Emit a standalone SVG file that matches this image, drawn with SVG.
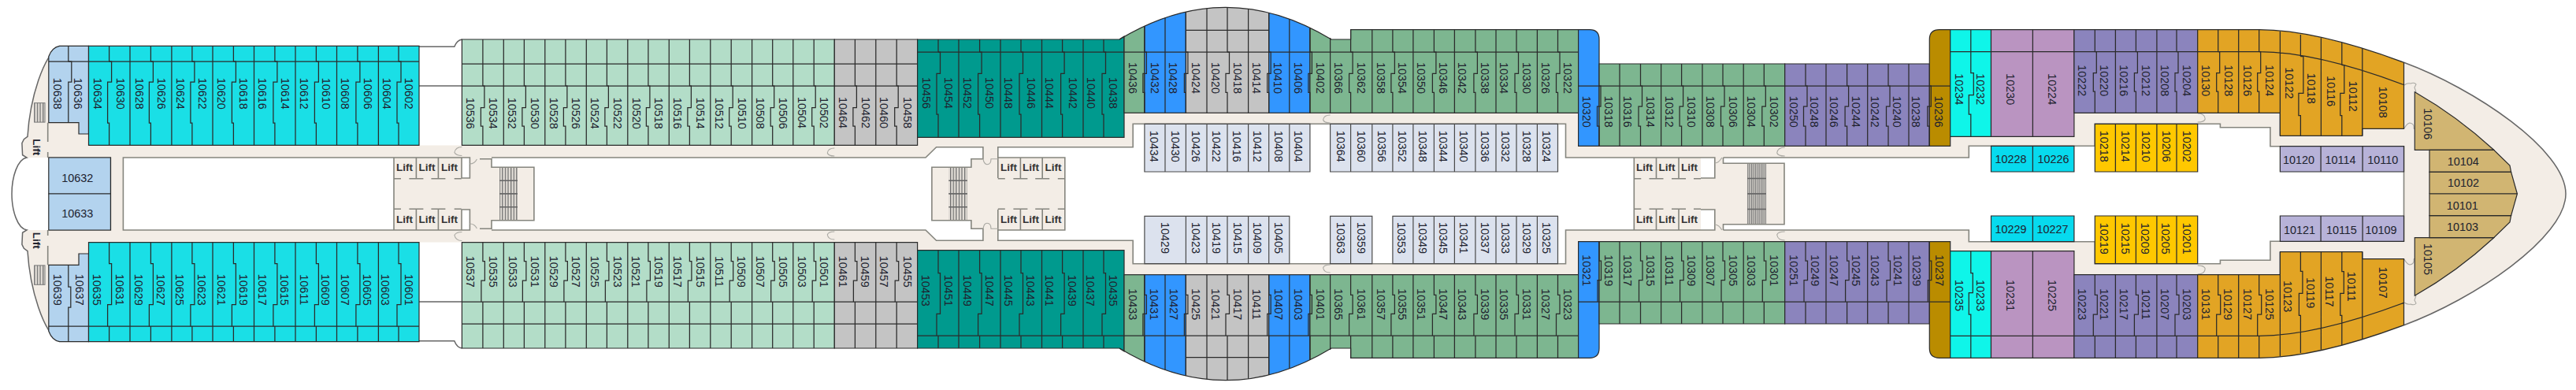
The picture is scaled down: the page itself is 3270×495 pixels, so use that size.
<svg xmlns="http://www.w3.org/2000/svg" width="3270" height="495" viewBox="0 0 3270 495">
<style>
text{font-family:"Liberation Sans",Arial,sans-serif;font-size:14.4px;fill:#20222e}
.v{writing-mode:vertical-rl;text-anchor:middle}
.h{text-anchor:middle;dominant-baseline:central}
.lift{font-size:13.5px;font-weight:bold;fill:#333}
.c{stroke:#2b2b2b;stroke-width:1.2}
.l{fill:none;stroke:#2b2b2b;stroke-width:1.25}
.w{fill:none;stroke:#85857e;stroke-width:1.6}
.d{fill:none;stroke:#aaa9a3;stroke-width:1.1}
.k{fill:none;stroke:#666;stroke-width:1.5}
.lb{fill:#b3d3ee}.cy{fill:#1adfe6}.mi{fill:#b3ddc8}.gy{fill:#c4c4c4}.te{fill:#009a8e}.gr{fill:#7db690}.bl{fill:#3296ff}.pu{fill:#8b84bd}.br{fill:#ba8c00}.bc{fill:#0ff5e9}.ma{fill:#ba94c1}.go{fill:#e2a424}.tn{fill:#d1b572}.yl{fill:#ffc800}.cb{fill:#07daee}.la{fill:#b7b2d8}
.pa{fill:#dce2ee;stroke:#4a4a4a;stroke-width:1.2}
</style>
<defs>
<clipPath id="dome"><path d="M1421 50Q1556 -31.4 1690 50V150H1421Z"/></clipPath>
<pattern id="st" width="3.6" height="10" patternUnits="userSpaceOnUse"><rect width="3.6" height="10" fill="#e6e1da"/><rect width="1.3" height="10" fill="#6e6e6e"/></pattern>
<pattern id="sf" width="2.6" height="10" patternUnits="userSpaceOnUse"><rect width="2.6" height="10" fill="#d4d0ca"/><rect width="1.2" height="10" fill="#7a7a7a"/></pattern>
</defs>
<rect width="3270" height="495" fill="#fff"/>
<g id="half">
<path fill="#f3ede6" d="M3051.5 79.3C3140 112 3257 190 3257 246H3051.5V185.7H2881.9V161.7H2818.4V157.3H2659.3V185.3H2499.3V200H2187.5V207.3H2265V246H2074.3V200H1987.5V157.3H1438.2V186.7H1266.8V200H1351.8V246H1182.9V212.3H1232.9V201.7H1247.9V186.7H1188.6L1175 200H624V212.3H677.9V246H500V200H156.4V246H140.4V200H34L28.6 196.7L27.9 181.7L30.4 176.7L35 173.3C38 125 55 70 75.7 58.3H112.5V184.4H1164V174H1427V143H2003.6V185H2475.7V173H2632.9V143H2894.4V172H2998.8V163H3051.5Z"/>
<path fill="#fff" d="M586 200H596.4V226H586Z M2159 200H2176.8V226H2159Z"/>
<rect x="43.6" y="130.7" width="13.4" height="24.4" fill="url(#st)" stroke="#777"/>
<rect x="634" y="212.3" width="23" height="33.7" fill="url(#st)"/>
<rect x="1204.3" y="212.3" width="23.6" height="33.7" fill="url(#st)"/>
<rect x="2217.9" y="207.3" width="24.2" height="38.7" fill="url(#sf)"/>
<path class="k" d="M634 229.3H657M634 246H657M1204.3 229.3H1228M1204.3 246H1228M2218 226.5H2242M2218 246H2242"/>
<path class="w" d="M140.4 246V200H61.8M156.4 246V200H500V246M500 200H596.4V226H586V200M624 200H1175L1188.6 186.7H1247.9V201.7H1232.9V212.3H1182.9V246M609 201.7H624V212.3H677.9V246M1266.8 226V186.7H1438.2V157.3H1987.5V200H2074.3V246M1266.8 200H1351.8V246M2074.3 200H2176.8V226H2159M2187.5 200V207.3H2265V246M2187.5 200H2499.3V185.3H2659.3V157.3H2818.4V161.7H2881.9V185.7H3051.5V246M60.7 155.7V180M60.7 193V200"/>
<path class="w" d="M528.4 200V226.7M556.4 200V226.7M500 226.7h9M519.4 226.7h18M547.4 226.7h18M576.7 226.7h9M1295.4 200V226.7M1323.2 200V226.7M1266.8 226.7h9M1286.4 226.7h18M1314.2 226.7h18M1342.8 226.7h9M2102.5 200V226.7M2131 200V226.7M2074.3 226.7h9M2093.5 226.7h18M2122 226.7h18M2150 226.7h9"/>
<path class="d" d="M586.4 186.5q-8 0-9.5 7q2 4 9.5 4M1059.3 188q-8 0-9 6q1 4 9 4M1248 201.7q1 7 5 7q5 0 5-7h9M596.4 208q6 0 9-6M2176.8 207q5 0 9-7M1688.6 146q-8 0-9 6q1 4 9 4M2265.7 187q-9 0-10 7q1 4 10 4M2789.7 144q9 0 9.5 7q-1 4-9.5 4M3052 108q4-3 8-2q5-2 7 1l-2 4l2 6M3052 163q3-6 7-7q6 1 5 7l2 1"/>
<path class="k" d="M3051.5 79.3C3140 112 3257 190 3257 246M75.7 58.3C55 70 38 125 35 173.3L30.4 176.7L27.9 181.7L28.6 196.7L34 200C22 202 15 225 15 246M532 59.3H576.8Q580 51 586.4 50M532 109H586.4"/>
<path class="c lb" d="M112.5 58.3H75.7Q66 60 61.8 71.7V155.7H100V170H112.5Z"/>
<path class="c lb" d="M61.8 200H140.4V246H61.8Z"/>
<path class="c cy" d="M112.5 58.3H532V184.4H112.5Z"/>
<path class="c mi" d="M586.4 50H1059.3V184.4H586.4Z"/>
<path class="c gy" d="M1059.3 50H1164.6V184.4H1059.3Z"/>
<path class="c te" d="M1164.6 50H1421L1427 46V174.3H1164.6Z"/>
<g clip-path="url(#dome)">
<rect class="c gr" x="1427" y="-10" width="25.9" height="153.3"/>
<rect class="c bl" x="1452.9" y="-10" width="52.5" height="153.3"/>
<rect class="c gy" x="1505.4" y="-10" width="105.3" height="153.3"/>
<rect class="c bl" x="1610.7" y="-10" width="52.2" height="153.3"/>
<rect class="c gr" x="1662.9" y="-10" width="27" height="153.3"/>
<path class="l" d="M1505.4 38.3H1610.7M1452.9 0V66M1505.4 0V66M1558 0V66M1610.7 0V66M1662.9 0V66M1479 0V143.3M1532 0V143.3M1584.6 0V143.3M1636.8 0V143.3"/>
</g>
<path class="l" d="M1421 50Q1556 -31.4 1690 50"/>
<path class="c gr" d="M1688.6 48V50H1714.6V37.7H2003.6V143.3H1688.6Z"/>
<path class="c bl" d="M2003.6 37.7H2018Q2030 37.7 2030 50V185.3H2003.6Z"/>
<path class="c gr" d="M2030 81H2265.7V185.3H2030Z"/>
<path class="c pu" d="M2265.7 81H2449.3V185.3H2265.7Z"/>
<path class="c br" d="M2449.3 185.3V50Q2449.3 37.7 2462 37.7H2475.7V185.3Z"/>
<path class="c bc" d="M2475.7 37.7H2527.5V173.3H2475.7Z"/>
<path class="c ma" d="M2527.5 37.7H2632.9V173.3H2527.5Z"/>
<path class="c pu" d="M2632.9 37.7H2789.7V143.3H2632.9Z"/>
<path class="c go" d="M2789.7 37.7H2867.7Q2940 37.7 3051.5 79.3V163.3H2998.8V172.3H2894.4V143.3H2789.7Z"/>
<path class="c tn" d="M3065.3 116.7Q3120 148 3165.7 190.3H3065.3Z"/>
<path class="c tn" d="M3084 190.3H3165.7L3186 210L3187.6 218.3H3084Z"/>
<path class="c tn" d="M3084 218.3H3187.6L3195.4 246H3084Z"/>
<path class="c yl" d="M2659.3 157.3H2789.7V218H2659.3Z"/>
<path class="c cb" d="M2527.5 185.3H2632.9V218H2527.5Z"/>
<path class="c la" d="M2894.4 185.7H3051.5V218H2894.4Z"/>
<path class="l" d="M61.8 78H532M86.8 58.3V78M138.6 58.3V78M191.4 58.3V78M243.9 58.3V78M296.4 58.3V78M348.9 58.3V78M401.4 58.3V78M453.9 58.3V78M506 58.3V78M165 58.3V184.4M217.9 58.3V184.4M270 58.3V184.4M322.5 58.3V184.4M375 58.3V184.4M427.5 58.3V184.4M480.4 58.3V184.4"/>
<path class="l" d="M586.4 81H1164.6M586.4 109H1164.6M612.9 50V109M665.4 50V109M717.9 50V109M770.4 50V109M822.9 50V109M875.4 50V109M928.2 50V109M980.7 50V109M1033.2 50V109M1085.4 50V109M1138.2 50V109M639.3 50V184.4M691.8 50V184.4M744.3 50V184.4M796.8 50V184.4M849.3 50V184.4M901.8 50V184.4M954.6 50V184.4M1006.8 50V184.4M1111.8 50V184.4"/>
<path class="l" d="M1164.6 66H1427M1191 50V66M1243.6 50V66M1296 50V66M1348.6 50V66M1401 50V66M1217 50V174.3M1270 50V174.3M1322.5 50V174.3M1375 50V174.3M1427 66H2003.6"/>
<path class="l" d="M1714.6 37.7V66M1767.9 37.7V66M1820.4 37.7V66M1872.9 37.7V66M1925 37.7V66M1977.5 37.7V66M1741.8 37.7V143.3M1793.9 37.7V143.3M1846.4 37.7V143.3M1899 37.7V143.3M1951.4 37.7V143.3"/>
<path class="l" d="M2003.6 109H2475.7M2082.5 81V109M2134.6 81V109M2187 81V109M2239.3 81V109M2292 81V109M2344.6 81V109M2397 81V109M2056 81V185.3M2108.6 81V185.3M2161 81V185.3M2213.2 81V185.3M2318 81V185.3M2370.7 81V185.3M2423 81V185.3"/>
<path class="l" d="M2475.7 65.7H2867.7Q2940 65.7 3051.5 107.7M2501.8 37.7V65.7M2580.4 37.7V173.3M2659.3 37.7V65.7M2711.4 37.7V65.7M2763 37.7V65.7M2685.4 37.7V143.3M2737.9 37.7V143.3M2815.7 37.7V65.7M2867.7 37.7V65.7M2841.7 37.7V143.3M2894.4 40V172.3M2920.4 44V71.7M2946.4 48.3V172.3M2972.8 54V82.7M2998.8 61V172.3"/>
<path class="l" d="M2685.4 157.3V218M2711.4 157.3V218M2737.9 157.3V218M2763 157.3V218M2580.4 185.3V218M2946.1 185.7V218M2999.1 185.7V218"/>
</g>
<use href="#half" transform="matrix(1 0 0 -1 0 492)"/>
<g id="jogged-walls">
<path class="l" d="M86.8 78h4v26h-4v52M138.6 78h3v26h-5v52h2v28M191.4 78h3v26h-5v52h2v28M243.9 78h3v26h-5v52h2v28M296.4 78h3v26h-5v52h2v28M348.9 78h3v26h-5v52h2v28M401.4 78h3v26h-5v52h2v28M453.9 78h3v26h-5v52h2v28M506 78h3v26h-5v52h2v28"/>
<path class="l" d="M86.8 336v28h3v26h-3v24.3M138.6 307.6v27h3v52h-5v28M191.4 307.6v27h3v52h-5v28M243.9 307.6v27h3v52h-5v28M296.4 307.6v27h3v52h-5v28M348.9 307.6v27h3v52h-5v28M401.4 307.6v27h3v52h-5v28M453.9 307.6v27h3v52h-5v28M506 307.6v27h3v52h-5v28"/>
<path class="l" d="M612.9 109h2v27.7h-4.5v23.3h2.5v24.4M665.4 109h2v27.7h-4.5v23.3h2.5v24.4M717.9 109h2v27.7h-4.5v23.3h2.5v24.4M770.4 109h2v27.7h-4.5v23.3h2.5v24.4M822.9 109h2v27.7h-4.5v23.3h2.5v24.4M875.4 109h2v27.7h-4.5v23.3h2.5v24.4M928.2 109h2v27.7h-4.5v23.3h2.5v24.4M980.7 109h2v27.7h-4.5v23.3h2.5v24.4M1033.2 109h2v27.7h-4.5v23.3h2.5v24.4M1085.4 109h2v27.7h-4.5v23.3h2.5v24.4M1138.2 109h2v27.7h-4.5v23.3h2.5v24.4"/>
<path class="l" d="M612.9 307.6v24h2.5v24.4h-4.5v27M665.4 307.6v24h2.5v24.4h-4.5v27M717.9 307.6v24h2.5v24.4h-4.5v27M770.4 307.6v24h2.5v24.4h-4.5v27M822.9 307.6v24h2.5v24.4h-4.5v27M875.4 307.6v24h2.5v24.4h-4.5v27M928.2 307.6v24h2.5v24.4h-4.5v27M980.7 307.6v24h2.5v24.4h-4.5v27M1033.2 307.6v24h2.5v24.4h-4.5v27M1085.4 307.6v24h2.5v24.4h-4.5v27M1138.2 307.6v24h2.5v24.4h-4.5v27"/>
<path class="l" d="M1191 66h2.5v27.3h-4.5v51.7h2v29.3M1243.6 66h2.5v27.3h-4.5v51.7h2v29.3M1296 66h2.5v27.3h-4.5v51.7h2v29.3M1348.6 66h2.5v27.3h-4.5v51.7h2v29.3M1401 66h2.5v27.3h-4.5v51.7h2v29.3"/>
<path class="l" d="M1191 317.7v29h2.5v51.6h-4.5v27.7M1243.6 317.7v29h2.5v51.6h-4.5v27.7M1296 317.7v29h2.5v51.6h-4.5v27.7M1348.6 317.7v29h2.5v51.6h-4.5v27.7M1401 317.7v29h2.5v51.6h-4.5v27.7"/>
<path class="l" d="M1452.9 66h2.5v27.3h-4.5v24h2v26M1505.4 66h2.5v27.3h-4.5v24h2v26M1558 66h2.5v27.3h-4.5v24h2v26M1610.7 66h2.5v27.3h-4.5v24h2v26M1662.9 66h2.5v27.3h-4.5v24h2v26M1714.6 66h2.5v27.3h-4.5v24h2v26M1767.9 66h2.5v27.3h-4.5v24h2v26M1820.4 66h2.5v27.3h-4.5v24h2v26M1872.9 66h2.5v27.3h-4.5v24h2v26M1925 66h2.5v27.3h-4.5v24h2v26M1977.5 66h2.5v27.3h-4.5v24h2v26"/>
<path class="l" d="M1452.9 348.7v25.6h2.5v24h-4.5v27.7M1505.4 348.7v25.6h2.5v24h-4.5v27.7M1558 348.7v25.6h2.5v24h-4.5v27.7M1610.7 348.7v25.6h2.5v24h-4.5v27.7M1662.9 348.7v25.6h2.5v24h-4.5v27.7M1714.6 348.7v25.6h2.5v24h-4.5v27.7M1767.9 348.7v25.6h2.5v24h-4.5v27.7M1820.4 348.7v25.6h2.5v24h-4.5v27.7M1872.9 348.7v25.6h2.5v24h-4.5v27.7M1925 348.7v25.6h2.5v24h-4.5v27.7M1977.5 348.7v25.6h2.5v24h-4.5v27.7"/>
<path class="l" d="M2030 109h2v26h-4.5v25h2.5v25.3M2082.5 109h2v26h-4.5v25h2.5v25.3M2134.6 109h2v26h-4.5v25h2.5v25.3M2187 109h2v26h-4.5v25h2.5v25.3M2239.3 109h2v26h-4.5v25h2.5v25.3M2292 109h2v26h-4.5v25h2.5v25.3M2344.6 109h2v26h-4.5v25h2.5v25.3M2397 109h2v26h-4.5v25h2.5v25.3M2449.3 109h2v26h-4.5v25h2.5v25.3"/>
<path class="l" d="M2030 306.7v24.3h2.5v24.7h-4.5v27.3M2082.5 306.7v24.3h2.5v24.7h-4.5v27.3M2134.6 306.7v24.3h2.5v24.7h-4.5v27.3M2187 306.7v24.3h2.5v24.7h-4.5v27.3M2239.3 306.7v24.3h2.5v24.7h-4.5v27.3M2292 306.7v24.3h2.5v24.7h-4.5v27.3M2344.6 306.7v24.3h2.5v24.7h-4.5v27.3M2397 306.7v24.3h2.5v24.7h-4.5v27.3M2449.3 306.7v24.3h2.5v24.7h-4.5v27.3"/>
<path class="l" d="M2501.8 65.7v27h3.5v28h-6v24.3h2.5v28.3M2501.8 318.7v28h2.5v25h-5v27.3h2.5v27M2659.3 65.7h2v27h-4v23.3h2v27.3M2711.4 65.7h2v27h-4v23.3h2v27.3M2763 65.7h2v27h-4v23.3h2v27.3M2815.7 65.7h2v27h-4v23.3h2v27.3M2867.7 65.7h2v27h-4v23.3h2v27.3M2659.3 348.7v25.6h3v24.7h-5v27M2711.4 348.7v25.6h3v24.7h-5v27M2763 348.7v25.6h3v24.7h-5v27M2815.7 348.7v25.6h3v24.7h-5v27M2867.7 348.7v25.6h3v24.7h-5v27"/>
<path class="l" d="M2920.4 71.7h3.5v46.6h-6v28.4h2.5v25.6M2972.8 82.7h3v35.6h-5v28.4h2v25.6M2920.4 319.7v24.6h2.5v28h-4.5v28h2v20M2972.8 319.7v25h2.5v27.6h-4.5v28h2v9.3"/>
</g>
<g id="inner-cabins">
<path class="pa" d="M1452.9 157.3H1662.9V218H1452.9ZM1479 157.3V218M1505.4 157.3V218M1532 157.3V218M1558 157.3V218M1584.6 157.3V218M1610.7 157.3V218M1636.8 157.3V218"/>
<path class="pa" d="M1688.6 157.3H1977.5V218H1688.6ZM1714.6 157.3V218M1741.8 157.3V218M1767.9 157.3V218M1793.9 157.3V218M1820.4 157.3V218M1846.4 157.3V218M1872.9 157.3V218M1899 157.3V218M1925 157.3V218M1951.4 157.3V218"/>
<path class="pa" d="M1452.9 274.3H1636.8V334.7H1452.9ZM1505.4 274.3V334.7M1532 274.3V334.7M1558 274.3V334.7M1584.6 274.3V334.7M1610.7 274.3V334.7"/>
<path class="pa" d="M1688.6 274.3H1741.8V334.7H1688.6ZM1714.6 274.3V334.7"/>
<path class="pa" d="M1767.9 274.3H1977.5V334.7H1767.9ZM1793.9 274.3V334.7M1820.4 274.3V334.7M1846.4 274.3V334.7M1872.9 274.3V334.7M1899 274.3V334.7M1925 274.3V334.7M1951.4 274.3V334.7"/>
</g>
<g id="labels">
<text class="v" x="46.4" y="186.7" style="font-size:13.5px;font-weight:bold">Lift</text>
<text class="v" x="46.4" y="305.3" style="font-size:13.5px;font-weight:bold">Lift</text>
<text class="h lift" x="513.6" y="212.7">Lift</text><text class="h lift" x="542" y="212.7">Lift</text><text class="h lift" x="570.5" y="212.7">Lift</text>
<text class="h lift" x="513.6" y="278.6">Lift</text><text class="h lift" x="542" y="278.6">Lift</text><text class="h lift" x="570.5" y="278.6">Lift</text>
<text class="h lift" x="1280.4" y="212.7">Lift</text><text class="h lift" x="1308.6" y="212.7">Lift</text><text class="h lift" x="1337" y="212.7">Lift</text>
<text class="h lift" x="1280.4" y="278.6">Lift</text><text class="h lift" x="1308.6" y="278.6">Lift</text><text class="h lift" x="1337" y="278.6">Lift</text>
<text class="h lift" x="2087.5" y="212.7">Lift</text><text class="h lift" x="2116" y="212.7">Lift</text><text class="h lift" x="2144.6" y="212.7">Lift</text>
<text class="h lift" x="2087.5" y="278.6">Lift</text><text class="h lift" x="2116" y="278.6">Lift</text><text class="h lift" x="2144.6" y="278.6">Lift</text>
<text class="h" x="98.2" y="226">10632</text><text class="h" x="98.2" y="270.7">10633</text>
<text class="h" x="2552.5" y="201.7">10228</text><text class="h" x="2606.4" y="201.7">10226</text>
<text class="h" x="2552.5" y="290.7">10229</text><text class="h" x="2605.4" y="290.7">10227</text>
<text class="h" x="2918" y="202.7">10120</text><text class="h" x="2971" y="202.7">10114</text><text class="h" x="3024.8" y="202.7">10110</text>
<text class="h" x="2919" y="291.7">10121</text><text class="h" x="2972.4" y="291.7">10115</text><text class="h" x="3022.4" y="291.7">10109</text>
<text class="h" x="3126.8" y="205">10104</text><text class="h" x="3127" y="232.3">10102</text><text class="h" x="3125.8" y="260.7">10101</text><text class="h" x="3126" y="288.3">10103</text>
<text class="v" x="3082" y="157.3">10106</text><text class="v" x="3082" y="329">10105</text>
<text class="v" x="72.5" y="118.8">10638</text><text class="v" x="99" y="118.8">10636</text><text class="v" x="124" y="118.8">10634</text><text class="v" x="152.5" y="118.8">10630</text><text class="v" x="177" y="118.8">10628</text><text class="v" x="204.6" y="118.8">10626</text><text class="v" x="228.6" y="118.8">10624</text><text class="v" x="257" y="118.8">10622</text><text class="v" x="281.4" y="118.8">10620</text><text class="v" x="309.3" y="118.8">10618</text><text class="v" x="333" y="118.8">10616</text><text class="v" x="362" y="118.8">10614</text><text class="v" x="385.7" y="118.8">10612</text><text class="v" x="414" y="118.8">10610</text><text class="v" x="438" y="118.8">10608</text><text class="v" x="467" y="118.8">10606</text><text class="v" x="491" y="118.8">10604</text><text class="v" x="519" y="118.8">10602</text>
<text class="v" x="72.5" y="367.7">10639</text><text class="v" x="100.7" y="367.7">10637</text><text class="v" x="123" y="367.7">10635</text><text class="v" x="151.8" y="367.7">10631</text><text class="v" x="175.7" y="367.7">10629</text><text class="v" x="204" y="367.7">10627</text><text class="v" x="228" y="367.7">10625</text><text class="v" x="256.4" y="367.7">10623</text><text class="v" x="280.7" y="367.7">10621</text><text class="v" x="308.6" y="367.7">10619</text><text class="v" x="333" y="367.7">10617</text><text class="v" x="361.4" y="367.7">10615</text><text class="v" x="385.7" y="367.7">10611</text><text class="v" x="413" y="367.7">10609</text><text class="v" x="437.5" y="367.7">10607</text><text class="v" x="466" y="367.7">10605</text><text class="v" x="489" y="367.7">10603</text><text class="v" x="518.6" y="367.7">10601</text>
<text class="v" x="597.1" y="143.8">10536</text><text class="v" x="626.4" y="143.8">10534</text><text class="v" x="650" y="143.8">10532</text><text class="v" x="678.6" y="143.8">10530</text><text class="v" x="702.5" y="143.8">10528</text><text class="v" x="731.4" y="143.8">10526</text><text class="v" x="755.4" y="143.8">10524</text><text class="v" x="783.9" y="143.8">10522</text><text class="v" x="807.9" y="143.8">10520</text><text class="v" x="836.4" y="143.8">10518</text><text class="v" x="860.4" y="143.8">10516</text><text class="v" x="889.3" y="143.8">10514</text><text class="v" x="912.5" y="143.8">10512</text><text class="v" x="941.8" y="143.8">10510</text><text class="v" x="965.4" y="143.8">10508</text><text class="v" x="994" y="143.8">10506</text><text class="v" x="1017.9" y="143">10504</text><text class="v" x="1046.4" y="143">10502</text><text class="v" x="1069.6" y="143">10464</text><text class="v" x="1099" y="143">10462</text><text class="v" x="1122" y="143">10460</text><text class="v" x="1151.8" y="143">10458</text>
<text class="v" x="597.1" y="344.7">10537</text><text class="v" x="626" y="344.7">10535</text><text class="v" x="650.7" y="344.7">10533</text><text class="v" x="678.6" y="344.7">10531</text><text class="v" x="702.5" y="344.7">10529</text><text class="v" x="731.4" y="344.7">10527</text><text class="v" x="754.6" y="344.7">10525</text><text class="v" x="783.9" y="344.7">10523</text><text class="v" x="807" y="344.7">10521</text><text class="v" x="836.4" y="344.7">10519</text><text class="v" x="860" y="344.7">10517</text><text class="v" x="888.6" y="344.7">10515</text><text class="v" x="912.5" y="344.7">10511</text><text class="v" x="941" y="344.7">10509</text><text class="v" x="965" y="344.7">10507</text><text class="v" x="994" y="344.7">10505</text><text class="v" x="1017.9" y="344.7">10503</text><text class="v" x="1046.4" y="344.7">10501</text><text class="v" x="1070.4" y="344.7">10461</text><text class="v" x="1098.2" y="344.7">10459</text><text class="v" x="1122" y="344.7">10457</text><text class="v" x="1151.8" y="344.7">10455</text>
<text class="v" x="1175.7" y="118">10456</text><text class="v" x="1204.3" y="118">10454</text><text class="v" x="1227.9" y="118">10452</text><text class="v" x="1256.4" y="118">10450</text><text class="v" x="1280.4" y="118">10448</text><text class="v" x="1309" y="118">10446</text><text class="v" x="1332" y="118">10444</text><text class="v" x="1361.8" y="118">10442</text><text class="v" x="1384.6" y="118">10440</text><text class="v" x="1413" y="118">10438</text>
<text class="v" x="1175" y="368.7">10453</text><text class="v" x="1204.3" y="368.7">10451</text><text class="v" x="1227.9" y="368.7">10449</text><text class="v" x="1256.4" y="368.7">10447</text><text class="v" x="1279.6" y="368.7">10445</text><text class="v" x="1308.2" y="368.7">10443</text><text class="v" x="1332" y="368.7">10441</text><text class="v" x="1361.4" y="368.7">10439</text><text class="v" x="1384" y="368.7">10437</text><text class="v" x="1413.2" y="368.7">10435</text>
<text class="v" x="1437.5" y="99">10436</text><text class="v" x="1466" y="99">10432</text><text class="v" x="1489.3" y="99">10428</text><text class="v" x="1517.9" y="99">10424</text><text class="v" x="1542.9" y="99">10420</text><text class="v" x="1570.7" y="99">10418</text><text class="v" x="1594.6" y="99">10414</text><text class="v" x="1622" y="99">10410</text><text class="v" x="1647.5" y="99">10406</text><text class="v" x="1675.7" y="99">10402</text><text class="v" x="1699.3" y="99">10366</text><text class="v" x="1727.9" y="99">10362</text><text class="v" x="1752.5" y="99">10358</text><text class="v" x="1780.4" y="99">10354</text><text class="v" x="1804.3" y="99">10350</text><text class="v" x="1832" y="99">10346</text><text class="v" x="1856.4" y="99">10342</text><text class="v" x="1884.6" y="99">10338</text><text class="v" x="1909" y="99">10334</text><text class="v" x="1937.5" y="99">10330</text><text class="v" x="1961.8" y="99">10326</text><text class="v" x="1990" y="99">10322</text>
<text class="v" x="1437.5" y="386.2">10433</text><text class="v" x="1465.4" y="386.2">10431</text><text class="v" x="1490" y="386.2">10427</text><text class="v" x="1517.9" y="386.2">10425</text><text class="v" x="1542.9" y="386.2">10421</text><text class="v" x="1570.7" y="386.2">10417</text><text class="v" x="1594.6" y="386.2">10411</text><text class="v" x="1622.5" y="386.2">10407</text><text class="v" x="1647.5" y="386.2">10403</text><text class="v" x="1675.7" y="386.2">10401</text><text class="v" x="1699.3" y="386.2">10365</text><text class="v" x="1727.9" y="386.2">10361</text><text class="v" x="1752.5" y="386.2">10357</text><text class="v" x="1780.4" y="386.2">10355</text><text class="v" x="1804.3" y="386.2">10351</text><text class="v" x="1832" y="386.2">10347</text><text class="v" x="1856.4" y="386.2">10343</text><text class="v" x="1884.6" y="386.2">10339</text><text class="v" x="1909" y="386.2">10335</text><text class="v" x="1937.5" y="386.2">10331</text><text class="v" x="1961.8" y="386.2">10327</text><text class="v" x="1990" y="386.2">10323</text>
<text class="v" x="1465" y="185.7">10434</text><text class="v" x="1491.8" y="185.7">10430</text><text class="v" x="1517.9" y="185.7">10426</text><text class="v" x="1544" y="185.7">10422</text><text class="v" x="1570" y="185.7">10416</text><text class="v" x="1596.4" y="185.7">10412</text><text class="v" x="1622.5" y="185.7">10408</text><text class="v" x="1648" y="185.7">10404</text><text class="v" x="1701.8" y="185.7">10364</text><text class="v" x="1727.9" y="185.7">10360</text><text class="v" x="1753.6" y="185.7">10356</text><text class="v" x="1779.6" y="185.7">10352</text><text class="v" x="1806" y="185.7">10348</text><text class="v" x="1832" y="185.7">10344</text><text class="v" x="1858" y="185.7">10340</text><text class="v" x="1884.6" y="185.7">10336</text><text class="v" x="1910.7" y="185.7">10332</text><text class="v" x="1937.5" y="185.7">10328</text><text class="v" x="1963" y="185.7">10324</text>
<text class="v" x="1479.3" y="302">10429</text><text class="v" x="1517.9" y="302">10423</text><text class="v" x="1544" y="302">10419</text><text class="v" x="1570.7" y="302">10415</text><text class="v" x="1596.4" y="302">10409</text><text class="v" x="1622.5" y="302">10405</text><text class="v" x="1701.8" y="302">10363</text><text class="v" x="1727.5" y="302">10359</text><text class="v" x="1779.3" y="302">10353</text><text class="v" x="1806" y="302">10349</text><text class="v" x="1832" y="302">10345</text><text class="v" x="1858.2" y="302">10341</text><text class="v" x="1885" y="302">10337</text><text class="v" x="1910.7" y="302">10333</text><text class="v" x="1937.5" y="302">10329</text><text class="v" x="1963.2" y="302">10325</text>
<text class="v" x="2014.3" y="141.8">10320</text><text class="v" x="2042" y="141.8">10318</text><text class="v" x="2066" y="141.8">10316</text><text class="v" x="2094.6" y="141.8">10314</text><text class="v" x="2119" y="141.8">10312</text><text class="v" x="2147" y="141.8">10310</text><text class="v" x="2171.4" y="141.8">10308</text><text class="v" x="2200" y="141.8">10306</text><text class="v" x="2222.5" y="141.8">10304</text><text class="v" x="2251.8" y="141.8">10302</text><text class="v" x="2276.8" y="141.8">10250</text><text class="v" x="2302.9" y="141.8">10248</text><text class="v" x="2327.9" y="141.8">10246</text><text class="v" x="2356" y="141.8">10244</text><text class="v" x="2380" y="141.8">10242</text><text class="v" x="2408" y="141.8">10240</text><text class="v" x="2432" y="141.8">10238</text><text class="v" x="2460.7" y="141.8">10236</text>
<text class="v" x="2014.3" y="343.3">10321</text><text class="v" x="2042" y="343.3">10319</text><text class="v" x="2066" y="343.3">10317</text><text class="v" x="2094.6" y="343.3">10315</text><text class="v" x="2119" y="343.3">10311</text><text class="v" x="2147" y="343.3">10309</text><text class="v" x="2171.4" y="343.3">10307</text><text class="v" x="2200" y="343.3">10305</text><text class="v" x="2222.5" y="343.3">10303</text><text class="v" x="2251.8" y="343.3">10301</text><text class="v" x="2276.8" y="343.3">10251</text><text class="v" x="2303.6" y="343.3">10249</text><text class="v" x="2327.9" y="343.3">10247</text><text class="v" x="2356" y="343.3">10245</text><text class="v" x="2380.4" y="343.3">10243</text><text class="v" x="2409" y="343.3">10241</text><text class="v" x="2432.9" y="343.3">10239</text><text class="v" x="2461.8" y="343.3">10237</text>
<text class="v" x="2486.8" y="113.3">10234</text><text class="v" x="2513.6" y="113.3">10232</text><text class="v" x="2551.8" y="113.3">10230</text><text class="v" x="2605.4" y="113.3">10224</text>
<text class="v" x="2486.8" y="375">10235</text><text class="v" x="2513.6" y="375">10233</text><text class="v" x="2551.8" y="375">10231</text><text class="v" x="2605.4" y="375">10225</text>
<text class="v" x="2642.9" y="102.2">10222</text><text class="v" x="2671.4" y="102.2">10220</text><text class="v" x="2696.4" y="102.2">10216</text><text class="v" x="2724.3" y="102.2">10212</text><text class="v" x="2748.2" y="102.2">10208</text><text class="v" x="2776" y="102.2">10204</text><text class="v" x="2800" y="102.2">10130</text><text class="v" x="2828.5" y="102.2">10128</text><text class="v" x="2853" y="102.2">10126</text><text class="v" x="2881" y="102.2">10124</text>
<text class="v" x="2642.9" y="386.2">10223</text><text class="v" x="2671.4" y="386.2">10221</text><text class="v" x="2696.4" y="386.2">10217</text><text class="v" x="2724.3" y="386.2">10211</text><text class="v" x="2748.2" y="386.2">10207</text><text class="v" x="2776" y="386.2">10203</text><text class="v" x="2800" y="386.2">10131</text><text class="v" x="2827.8" y="386.2">10129</text><text class="v" x="2853.2" y="386.2">10127</text><text class="v" x="2881.2" y="386.2">10125</text>
<text class="v" x="2671.4" y="185.7">10218</text><text class="v" x="2697.5" y="185.7">10214</text><text class="v" x="2724" y="185.7">10210</text><text class="v" x="2750" y="185.7">10206</text><text class="v" x="2775.5" y="185.7">10202</text>
<text class="v" x="2671.4" y="302.8">10219</text><text class="v" x="2697.5" y="302.8">10215</text><text class="v" x="2723.2" y="302.8">10209</text><text class="v" x="2749.4" y="302.8">10205</text><text class="v" x="2775.5" y="302.8">10201</text>
<text class="v" x="2906" y="105.5">10122</text><text class="v" x="2934" y="112.2">10118</text><text class="v" x="2959" y="115.8">10116</text><text class="v" x="2986.6" y="122.2">10112</text><text class="v" x="3024.5" y="129.7">10108</text>
<text class="v" x="2903.9" y="376.2">10123</text><text class="v" x="2932.6" y="371.7">10119</text><text class="v" x="2957.2" y="370">10117</text><text class="v" x="2985" y="363.7">10111</text><text class="v" x="3024.5" y="358.7">10107</text>
</g>
</svg>
